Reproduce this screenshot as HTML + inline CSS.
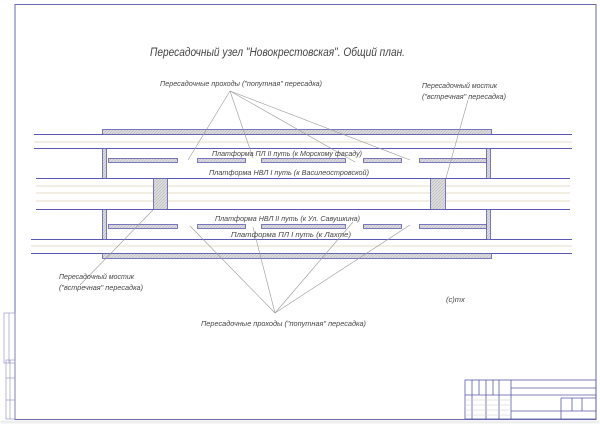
<!DOCTYPE html>
<html><head><meta charset="utf-8"><style>
html,body{margin:0;padding:0;background:#fff;}
svg{display:block;}
text{font-family:"Liberation Sans","DejaVu Sans",sans-serif;font-style:italic;fill:#444;}
</style></head><body>
<svg width="600" height="424" viewBox="0 0 600 424" xmlns="http://www.w3.org/2000/svg">
<defs>
<pattern id="h" width="3" height="3" patternUnits="userSpaceOnUse"><rect width="3" height="3" fill="#ddd"/><path d="M0 3L3 0" stroke="#bbb" stroke-width="0.7"/></pattern>
</defs>
<rect x="0" y="0" width="600" height="424" fill="#fff"/>
<rect x="0.5" y="420.5" width="599" height="3" fill="#eee"/>
<rect x="15" y="4.5" width="581" height="415" fill="none" stroke="#6a6ab4" stroke-width="1"/>
<!-- left strips -->
<g stroke="#8a8ac0" stroke-width="0.6" fill="none">
<rect x="4" y="313" width="11" height="50"/>
<line x1="9" y1="313" x2="9" y2="363"/>
<rect x="6" y="360" width="9" height="59"/>
<line x1="6" y1="378" x2="15" y2="378"/><line x1="6" y1="400" x2="15" y2="400"/>
<line x1="10" y1="360" x2="10" y2="419"/>
</g>
<!-- title block -->
<g stroke="#5a5aa8" stroke-width="0.8" fill="none">
<rect x="465" y="380" width="131" height="39"/>
<line x1="472" y1="380" x2="472" y2="419"/><line x1="479" y1="380" x2="479" y2="395"/>
<line x1="486" y1="380" x2="486" y2="419"/><line x1="493" y1="380" x2="493" y2="395"/>
<line x1="499" y1="380" x2="499" y2="419"/><line x1="511" y1="380" x2="511" y2="419"/>
<line x1="511" y1="388" x2="596" y2="388"/><line x1="465" y1="395" x2="596" y2="395"/>
<line x1="561" y1="398" x2="561" y2="419"/><line x1="561" y1="398" x2="596" y2="398"/>
<line x1="572" y1="398" x2="572" y2="411"/><line x1="582" y1="398" x2="582" y2="411"/>
<line x1="511" y1="411" x2="596" y2="411"/>
</g>
<g stroke="#ccc" stroke-width="0.5"><line x1="465" y1="400" x2="511" y2="400"/><line x1="465" y1="405" x2="511" y2="405"/><line x1="465" y1="410" x2="511" y2="410"/><line x1="465" y1="415" x2="511" y2="415"/></g>
<!-- track lines -->
<g stroke="#e6dcc8" stroke-width="1">
<line x1="34" y1="142" x2="572" y2="142"/>
<line x1="36" y1="186" x2="570" y2="186"/><line x1="36" y1="193" x2="570" y2="193"/>
<line x1="36" y1="201" x2="570" y2="201"/>
<line x1="31" y1="246" x2="572" y2="246"/>
</g>
<g stroke="#5a5ab4" stroke-width="1">
<line x1="34" y1="134.5" x2="572" y2="134.5"/>
<line x1="34" y1="148.5" x2="572" y2="148.5"/>
<line x1="36" y1="178.5" x2="570" y2="178.5"/>
<line x1="36" y1="209.5" x2="570" y2="209.5"/>
<line x1="31" y1="239.5" x2="572" y2="239.5"/>
<line x1="31" y1="253.5" x2="572" y2="253.5"/>
</g>
<g fill="url(#h)" stroke="#5a5ab4" stroke-width="0.8">
<rect x="102.5" y="129.5" width="389" height="5"/>
<rect x="102.5" y="253.5" width="389" height="5"/>
<rect x="102.5" y="148.5" width="4" height="30"/>
<rect x="486.5" y="148.5" width="4" height="30"/>
<rect x="102.5" y="209.5" width="4" height="30"/>
<rect x="486.5" y="209.5" width="4" height="30"/>
<rect x="153.5" y="178.5" width="14" height="31"/>
<rect x="430.5" y="178.5" width="15" height="31"/>
<rect x="108.5" y="158.5" width="69" height="4"/><rect x="197.5" y="158.5" width="48" height="4"/>
<rect x="261.5" y="158.5" width="84" height="4"/><rect x="363.5" y="158.5" width="38" height="4"/>
<rect x="419.5" y="158.5" width="67" height="4"/>
<rect x="108.5" y="224.5" width="69" height="4"/><rect x="197.5" y="224.5" width="48" height="4"/>
<rect x="261.5" y="224.5" width="84" height="4"/><rect x="363.5" y="224.5" width="38" height="4"/>
<rect x="419.5" y="224.5" width="67" height="4"/>
</g>
<!-- leader lines -->
<g stroke="#999" stroke-width="0.6" fill="none">
<line x1="230" y1="91" x2="188" y2="160"/><line x1="230" y1="91" x2="253" y2="158"/>
<line x1="230" y1="91" x2="355" y2="162"/><line x1="230" y1="91" x2="410" y2="160"/>
<line x1="468" y1="100" x2="446" y2="178"/>
<line x1="80" y1="285" x2="153" y2="210"/>
<line x1="275" y1="313" x2="190" y2="226"/><line x1="275" y1="313" x2="253" y2="227"/>
<line x1="275" y1="313" x2="353" y2="222"/><line x1="275" y1="313" x2="410" y2="225"/>
</g>
<!-- text -->
<text x="150" y="56" font-size="11.5" textLength="255" lengthAdjust="spacingAndGlyphs">Пересадочный узел "Новокрестовская". Общий план.</text>
<text x="160" y="86" font-size="7.5" textLength="162" lengthAdjust="spacingAndGlyphs">Пересадочные проходы ("попутная" пересадка)</text>
<text x="422" y="88" font-size="7.5" textLength="75" lengthAdjust="spacingAndGlyphs">Пересадочный мостик</text>
<text x="422" y="99" font-size="7.5" textLength="84" lengthAdjust="spacingAndGlyphs">("встречная" пересадка)</text>
<text x="212" y="156" font-size="7.5" textLength="150" lengthAdjust="spacingAndGlyphs">Платформа ПЛ II путь (к Морскому фасаду)</text>
<text x="209" y="175" font-size="7.5" textLength="160" lengthAdjust="spacingAndGlyphs">Платформа НВЛ I путь (к Василеостровской)</text>
<text x="215" y="221" font-size="7.5" textLength="145" lengthAdjust="spacingAndGlyphs">Платформа НВЛ II путь (к Ул. Савушкина)</text>
<text x="231" y="237" font-size="7.5" textLength="120" lengthAdjust="spacingAndGlyphs">Платформа ПЛ I путь (к Лахте)</text>
<text x="59" y="279" font-size="7.5" textLength="75" lengthAdjust="spacingAndGlyphs">Пересадочный мостик</text>
<text x="59" y="290" font-size="7.5" textLength="84" lengthAdjust="spacingAndGlyphs">("встречная" пересадка)</text>
<text x="446" y="302" font-size="7.5">(c)mx</text>
<text x="201" y="326" font-size="7.5" textLength="165" lengthAdjust="spacingAndGlyphs">Пересадочные проходы ("попутная" пересадка)</text>
</svg>
</body></html>
